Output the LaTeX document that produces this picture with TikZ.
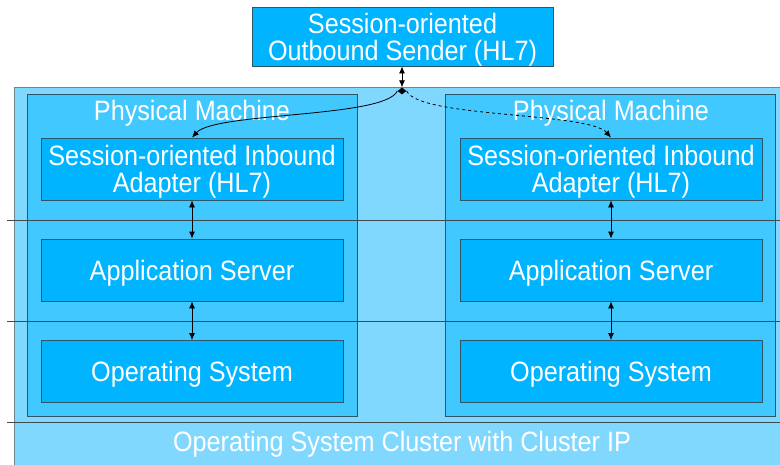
\documentclass[tikz,border=0pt]{standalone}
\usepackage{fontspec}
\setmainfont{Liberation Sans}[FakeStretch=0.9]
\usetikzlibrary{arrows.meta,shapes.geometric}
\definecolor{clusterblue}{HTML}{80D8FF}
\definecolor{machineblue}{HTML}{40C8FF}
\definecolor{compblue}{HTML}{00B4FF}
\definecolor{edgedark}{HTML}{2E5568}
\definecolor{edgegray}{HTML}{6E8590}
\definecolor{tiergray}{HTML}{3C4A52}
\begin{document}
\begin{tikzpicture}[x=1pt,y=-1pt,
  label/.style={text=white, align=center, inner sep=0pt,
    font=\fontsize{28}{27}\selectfont},
  box/.style={label, draw=edgedark, line width=0.8pt},
  comp/.style={box, fill=compblue, minimum width=302pt, minimum height=62pt},
  machine/.style={draw=edgedark, line width=0.8pt, fill=machineblue,
    minimum width=330pt, minimum height=322pt, inner sep=0pt},
  tier/.style={draw=tiergray, line width=0.6pt},
  link/.style={line width=0.8pt, >={Latex[length=7pt,width=6pt]}}
]
\useasboundingbox (0,0) rectangle (780,464);
\clip (0,0) rectangle (780,464);
\fill[white] (0,0) rectangle (780,464);

% cluster background
\node[draw=edgegray, line width=0.8pt, fill=clusterblue, anchor=north west,
  minimum width=800pt, minimum height=400pt, inner sep=0pt] (cluster) at (14,87) {};
\node[label] (clusterlabel) at (402,444.5) {Operating System Cluster with Cluster IP};

% physical machines
\node[machine] (pm1) at (192,255) {};
\node[machine] (pm2) at (610.5,255) {};
\node[label] (pm1title) at (192,113.5) {Physical Machine};
\node[label] (pm2title) at (611,113.5) {Physical Machine};

% tier separators
\coordinate (t1a) at (7,220);  \coordinate (t1b) at (780,220);
\coordinate (t2a) at (7,321);  \coordinate (t2b) at (780,321);
\coordinate (t3a) at (7,422);  \coordinate (t3b) at (780,422);
\draw[tier] (t1a) -- (t1b);
\draw[tier] (t2a) -- (t2b);
\draw[tier] (t3a) -- (t3b);

% software stacks
\begin{scope}[every node/.append style={text depth=0pt}]
\node[comp] (ad1) at (192,169) {Session-oriented Inbound\\Adapter (HL7)};
\node[comp] (as1) at (192,270) {Application Server};
\node[comp] (os1) at (192,371.5) {Operating System};
\node[comp] (ad2) at (611,169) {Session-oriented Inbound\\Adapter (HL7)};
\node[comp] (as2) at (611,270) {Application Server};
\node[comp] (os2) at (611,371.5) {Operating System};

% sender
\node[comp, minimum width=301pt, minimum height=59pt] (sender) at (402.5,36.5)
  {Session-oriented\\Outbound Sender (HL7)};
\end{scope}

% junction
\node[diamond, fill=black, inner sep=0pt, minimum width=9pt, minimum height=7pt]
  (junction) at (402,91) {};

% connectors
\draw[link,<->] (sender.south -| junction) -- (junction.north);
\draw[link,->] (junction.west) .. controls (385,118) and (215,112) .. (ad1.north);
\draw[link,->,dashed] (junction.east) .. controls (419,118) and (589,112) .. (ad2.north);
\draw[link,<->] (ad1.south) -- (as1.north);
\draw[link,<->] (as1.south) -- (os1.north);
\draw[link,<->] (ad2.south) -- (as2.north);
\draw[link,<->] (as2.south) -- (os2.north);
\end{tikzpicture}
\end{document}
